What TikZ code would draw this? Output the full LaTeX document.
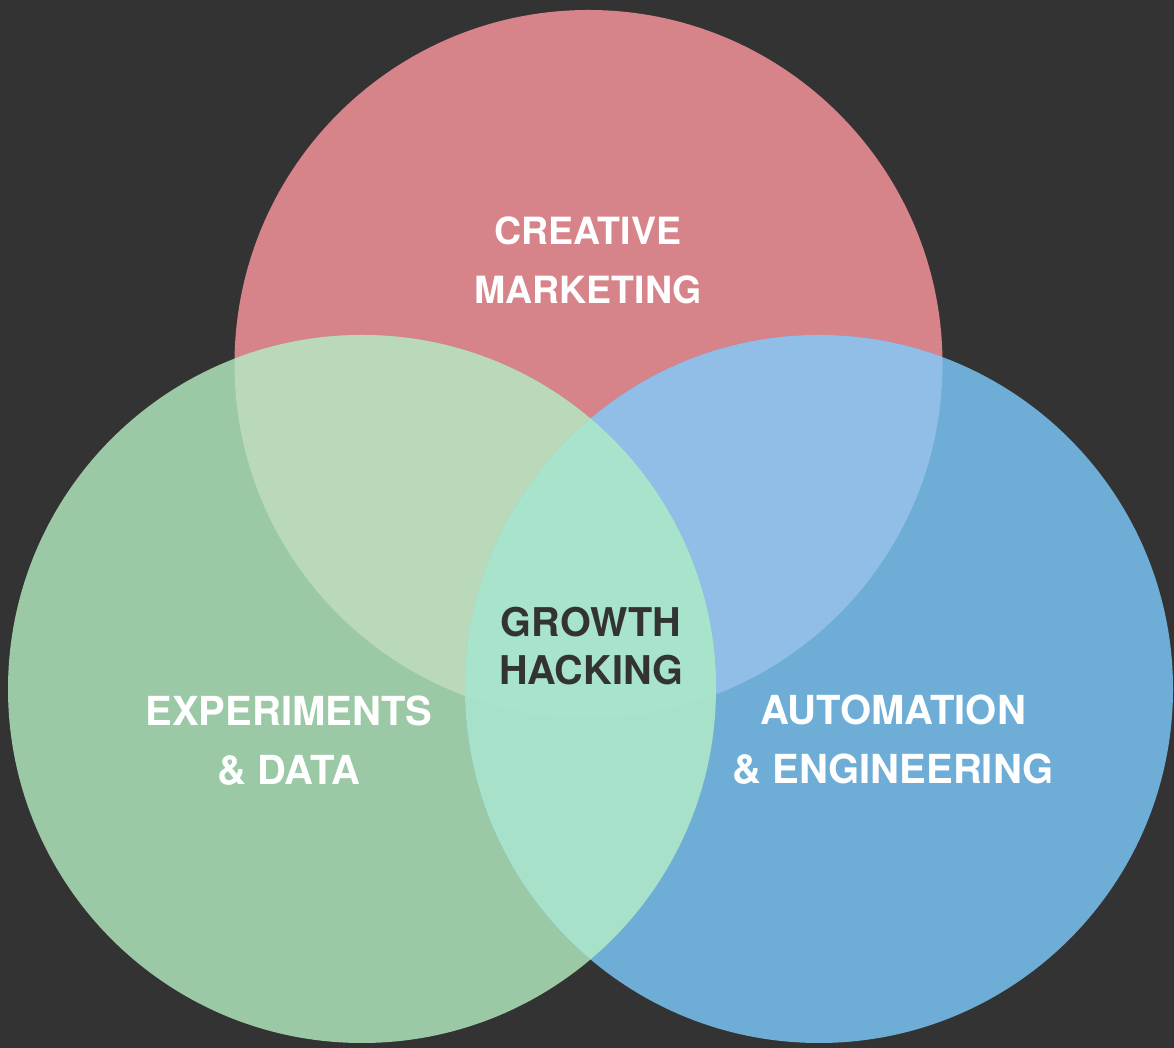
\documentclass[tikz,border=0pt]{standalone}
\usepackage{fontspec}
\setmainfont{TeX Gyre Heros}
\definecolor{bgdark}{HTML}{333333}
\definecolor{mktred}{HTML}{D68389}
\definecolor{datagreen}{HTML}{9BC9A6}
\definecolor{engblue}{HTML}{6EADD5}
\definecolor{redgreen}{HTML}{B9D9BA}
\definecolor{redblue}{HTML}{90BEE6}
\definecolor{greenblue}{HTML}{A7E1C9}
\definecolor{allthree}{HTML}{A8E4CB}
\tikzset{
  areatext/.style={text=white, font=\bfseries\fontsize{40}{59}\selectfont, align=center, inner sep=0pt},
  toptext/.style={areatext, font=\bfseries\fontsize{37.5}{59}\selectfont},
  coretext/.style={text=bgdark, font=\bfseries\fontsize{39.6}{48}\selectfont, align=center, inner sep=0pt}
}

\begin{document}
\begin{tikzpicture}[x=1pt,y=1pt]
  \fill[bgdark] (0,0) rectangle (1174,1048);
  \coordinate (mkt) at (588.5,684);
  \coordinate (data) at (362,359);
  \coordinate (eng) at (819,359);
  % the three discs
  \fill[mktred] (mkt) circle (354pt);
  \fill[datagreen] (data) circle (354pt);
  \fill[engblue] (eng) circle (354pt);
  % pairwise overlaps
  \begin{scope}
    \clip (mkt) circle (354pt);
    \fill[redgreen] (data) circle (354pt);
    \fill[redblue] (eng) circle (354pt);
  \end{scope}
  \begin{scope}
    \clip (data) circle (354pt);
    \fill[greenblue] (eng) circle (354pt);
    \clip (eng) circle (354pt);
    \fill[allthree] (mkt) circle (354pt);
  \end{scope}
  \node[toptext] (creative) at (588,788) {CREATIVE\\MARKETING};
  \node[areatext] (experiments) at (289,307) {EXPERIMENTS\\\& DATA};
  \node[areatext] (automation) at (893,308.5) {AUTOMATION\\\& ENGINEERING};
  \node[coretext] (growth) at (591,402) {GROWTH\\HACKING};
\end{tikzpicture}
\end{document}
